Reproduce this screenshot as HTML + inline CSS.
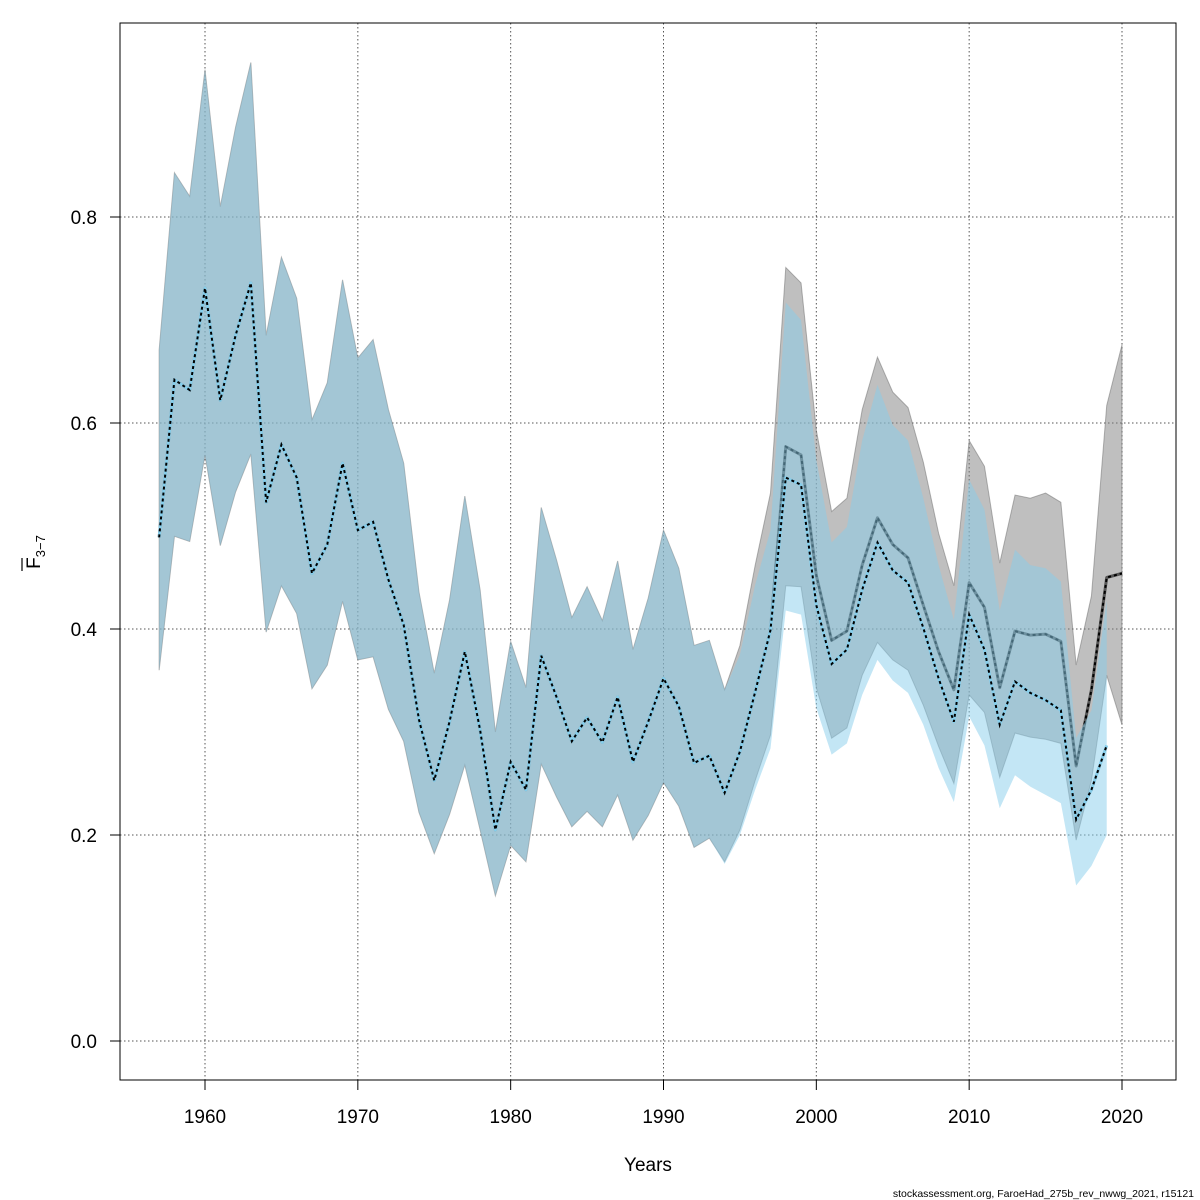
<!DOCTYPE html>
<html><head><meta charset="utf-8"><style>
html,body{margin:0;padding:0;background:#fff;width:1200px;height:1200px;overflow:hidden}
svg{font-family:"Liberation Sans","DejaVu Sans",sans-serif}
</style></head><body>
<svg id="chart" width="1200" height="1200">
<g id="grid"></g>
<g id="bands"></g>
<rect x="120" y="23" width="1056" height="1057" fill="none" stroke="#000" stroke-width="1"/>
<g id="axes"></g>
<text x="648" y="1171" font-size="19" text-anchor="middle">Years</text>
<g transform="translate(40,552) rotate(-90)">
<text x="0" y="0" font-size="19" text-anchor="middle">F<tspan font-size="13" dy="5">3−7</tspan></text>
<line x1="-19" y1="-18" x2="-6" y2="-18" stroke="#000" stroke-width="1.2"/>
</g>
<text x="1194" y="1197" font-size="10.5" text-anchor="end">stockassessment.org, FaroeHad_275b_rev_nwwg_2021, r15121</text>
</svg>
<script>
const yearsCur=[1957,1958,1959,1960,1961,1962,1963,1964,1965,1966,1967,1968,1969,1970,1971,1972,1973,1974,1975,1976,1977,1978,1979,1980,1981,1982,1983,1984,1985,1986,1987,1988,1989,1990,1991,1992,1993,1994,1995,1996,1997,1998,1999,2000,2001,2002,2003,2004,2005,2006,2007,2008,2009,2010,2011,2012,2013,2014,2015,2016,2017,2018,2019,2020];
const early=[0.489,0.642,0.632,0.731,0.622,0.685,0.736,0.523,0.579,0.547,0.454,0.482,0.561,0.496,0.504,0.448,0.404,0.312,0.253,0.310,0.378,0.302,0.205,0.271,0.244,0.374,0.334,0.291,0.314,0.290,0.334,0.271,0.310,0.352,0.325,0.270,0.277,0.241,0.281,0.339,0.399];
const earlyHi=[0.671,0.843,0.820,0.943,0.810,0.887,0.950,0.685,0.761,0.721,0.603,0.639,0.739,0.663,0.681,0.613,0.561,0.436,0.357,0.428,0.529,0.438,0.300,0.388,0.343,0.518,0.467,0.411,0.441,0.408,0.466,0.380,0.430,0.496,0.459,0.384,0.389,0.341];
const earlyLo=[0.360,0.490,0.485,0.569,0.481,0.533,0.570,0.397,0.442,0.415,0.342,0.365,0.427,0.370,0.373,0.322,0.291,0.222,0.182,0.220,0.268,0.205,0.141,0.190,0.174,0.269,0.237,0.208,0.223,0.208,0.239,0.195,0.219,0.251,0.228,0.188,0.197];
const curEst=early.concat([0.577,0.569,0.452,0.389,0.398,0.462,0.508,0.482,0.469,0.423,0.378,0.341,0.445,0.421,0.343,0.398,0.394,0.395,0.388,0.267,0.341,0.450,0.454]);
const curHi=earlyHi.concat([0.384,0.462,0.532,0.751,0.736,0.593,0.514,0.527,0.613,0.664,0.630,0.615,0.562,0.493,0.442,0.583,0.558,0.464,0.530,0.527,0.532,0.523,0.365,0.432,0.617,0.676]);
const curLo=earlyLo.concat([0.174,0.205,0.253,0.297,0.442,0.441,0.343,0.294,0.304,0.355,0.387,0.370,0.360,0.326,0.286,0.250,0.336,0.319,0.256,0.299,0.295,0.293,0.289,0.195,0.253,0.355,0.307]);
const prevEst=early.concat([0.547,0.540,0.423,0.366,0.380,0.438,0.484,0.457,0.445,0.401,0.352,0.310,0.414,0.380,0.307,0.349,0.338,0.331,0.321,0.215,0.244,0.287]);
const prevHi=earlyHi.concat([0.375,0.443,0.496,0.717,0.700,0.564,0.484,0.499,0.583,0.637,0.598,0.583,0.527,0.462,0.409,0.545,0.516,0.418,0.477,0.462,0.459,0.446,0.294,0.321,0.428]);
const prevLo=earlyLo.concat([0.172,0.200,0.244,0.284,0.418,0.414,0.323,0.278,0.289,0.336,0.370,0.350,0.338,0.307,0.265,0.232,0.315,0.287,0.226,0.258,0.247,0.239,0.231,0.151,0.170,0.200]);
const xTicks=[1960,1970,1980,1990,2000,2010,2020];
const yTicks=[0.0,0.2,0.4,0.6,0.8];
const yTickLabels=["0.0","0.2","0.4","0.6","0.8"];

const NS="http://www.w3.org/2000/svg";
const X=v=>205+(v-1960)*(1122-205)/60;
const Y=v=>1041-v*1030;
function mk(tag,attrs,parent){const e=document.createElementNS(NS,tag);for(const k in attrs)e.setAttribute(k,attrs[k]);parent.appendChild(e);return e;}
const grid=document.getElementById('grid'),axes=document.getElementById('axes'),bands=document.getElementById('bands');
xTicks.forEach(t=>{
 const g=mk('line',{x1:X(t),x2:X(t),y1:23,y2:1080,stroke:'#555','stroke-dasharray':'1.5,2.5','stroke-width':1},grid);
 
 
 const tk=mk('line',{x1:X(t),x2:X(t),y1:1080,y2:1090,stroke:'#000'},axes);
 
 
 const tx=mk('text',{x:X(t),y:1123,'font-size':19,'text-anchor':'middle'},axes);tx.textContent=t;
 
 
});
yTicks.forEach((t,i)=>{
 const g=mk('line',{x1:120,x2:1176,y1:Y(t),y2:Y(t),stroke:'#555','stroke-dasharray':'1.5,2.5','stroke-width':1},grid);
 
 
 const tk=mk('line',{x1:110,x2:120,y1:Y(t),y2:Y(t),stroke:'#000'},axes);
 
 
 const tx=mk('text',{x:97,y:Y(t)+7,'font-size':19,'text-anchor':'end'},axes);tx.textContent=yTickLabels[i];
 
 
});
function bandPath(hi,lo){let d='';hi.forEach((v,i)=>{d+=(i?'L':'M')+X(yearsCur[i])+','+Y(v);});for(let i=lo.length-1;i>=0;i--)d+='L'+X(yearsCur[i])+','+Y(lo[i]);return d+'Z';}
function linePath(a){return a.map((v,i)=>(i?'L':'M')+X(yearsCur[i])+','+Y(v)).join('');}
const b1=mk('path',{d:bandPath(curHi,curLo),fill:'rgba(128,128,128,0.5)',stroke:'rgba(110,110,110,0.5)','stroke-width':1},bands);


const l1=mk('path',{d:linePath(curEst),fill:'none',stroke:'#555','stroke-width':3,'stroke-linejoin':'round'},bands);


const l1d=mk('path',{d:linePath(curEst),fill:'none',stroke:'#000','stroke-width':2,'stroke-dasharray':'3,3'},bands);


const b2=mk('path',{d:bandPath(prevHi,prevLo),fill:'rgba(135,206,235,0.5)',stroke:'none'},bands);


const l2=mk('path',{d:linePath(prevEst),fill:'none',stroke:'#87ceeb','stroke-width':3,'stroke-linejoin':'round'},bands);


const l2d=mk('path',{d:linePath(prevEst),fill:'none',stroke:'#000','stroke-width':2,'stroke-dasharray':'3,3'},bands);


</script>
</body></html>
